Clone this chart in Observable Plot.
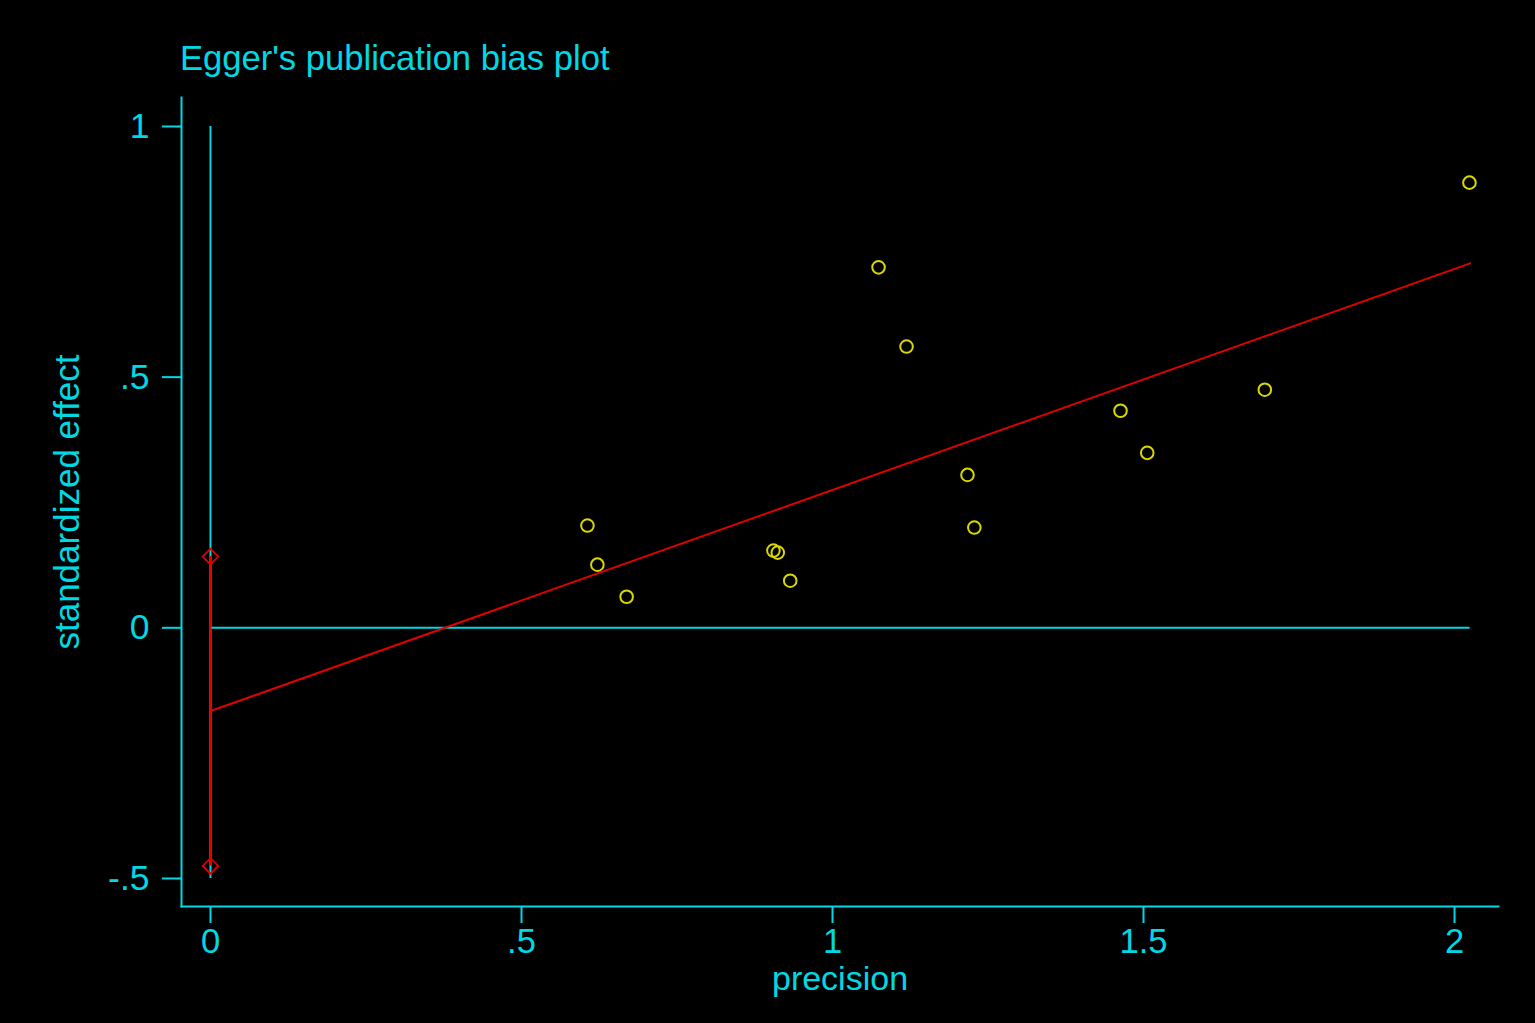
<!DOCTYPE html>
<html>
<head>
<meta charset="utf-8">
<script src="https://cdn.jsdelivr.net/npm/d3@7"></script>
<script src="https://cdn.jsdelivr.net/npm/@observablehq/plot@0.6"></script>
<style>
  html, body { margin: 0; padding: 0; background: #000; }
  #title { position: relative; height: 90px; width: 1535px; }
  #title span { position: absolute; left: 180px; top: 39px; line-height: 34px; font: 34.6px "Liberation Sans", Arial, sans-serif; color: #00d9e3; white-space: nowrap; }
</style>
</head>
<body>
<div id="title"><span>Egger's publication bias plot</span></div>
<div id="chart"></div>
<script>
const cyan = "#00d9e3";
const red = "#e00000";
const yellow = "#d9d900";

// Study points: precision vs standardized effect
const precision = [0.606, 0.622, 0.669, 0.905, 0.912, 0.932, 1.074, 1.119, 1.217, 1.228, 1.463, 1.506, 1.695, 2.024];
const stdEffect = [0.204, 0.126, 0.062, 0.154, 0.150, 0.094, 0.719, 0.561, 0.305, 0.200, 0.433, 0.349, 0.475, 0.888];

// Egger regression line
const fitX = [0, 2.025];
const fitY = [-0.166, 0.727];

// Confidence interval of intercept (bias)
const ciBounds = [-0.475, 0.142];

// Reference lines
const refVertical = [-0.5, 1];
const refHorizontal = [0, 2.025];

const xTicks = [0, 0.5, 1, 1.5, 2];
const yTicks = [-0.5, 0, 0.5, 1];
const xLabel = "precision";
const yLabel = "standardized effect";

const fmt = d => String(d).replace(/^(-?)0\./, "$1.");

const points = precision.map((x, i) => ({x, y: stdEffect[i]}));
const fit = fitX.map((x, i) => ({x, y: fitY[i]}));
const ciPts = ciBounds.map(y => ({x: 0, y}));

const chart = Plot.plot({
  width: 1535,
  height: 933,
  marginTop: 7,
  marginBottom: 117,
  marginLeft: 181,
  marginRight: 37,
  style: {background: "#000", color: cyan, fontFamily: "'Liberation Sans', Arial, sans-serif", fontSize: "35px"},
  x: {domain: [-0.0466, 2.0707]},
  y: {domain: [-0.5559, 1.0578]},
  marks: [
    Plot.frame({anchor: "left", stroke: cyan, strokeWidth: 2}),
    Plot.frame({anchor: "bottom", stroke: cyan, strokeWidth: 2}),
    Plot.axisX({ticks: xTicks, tickFormat: fmt, tickSize: 17, tickPadding: 5, stroke: cyan, strokeWidth: 2, fontSize: 34.5, label: null}),
    Plot.axisY({ticks: yTicks, tickFormat: fmt, tickSize: 19, tickPadding: 13, stroke: cyan, strokeWidth: 2, fontSize: 35.5, label: null}),
    Plot.text([xLabel], {frameAnchor: "bottom", textAnchor: "middle", lineAnchor: "middle", dy: 73, fill: cyan, fontSize: 34}),
    Plot.text([yLabel], {frameAnchor: "left", textAnchor: "middle", lineAnchor: "middle", dx: -114, rotate: -90, fill: cyan, fontSize: 35}),
    Plot.ruleX([0], {y1: refVertical[0], y2: refVertical[1], stroke: cyan, strokeWidth: 2}),
    Plot.ruleY([0], {x1: refHorizontal[0], x2: refHorizontal[1], stroke: cyan, strokeWidth: 2}),
    Plot.ruleX([0], {y1: ciBounds[0], y2: ciBounds[1], stroke: red, strokeWidth: 2}),
    Plot.line(fit, {x: "x", y: "y", stroke: red, strokeWidth: 2}),
    Plot.dot(points, {x: "x", y: "y", r: 6.3, stroke: yellow, strokeWidth: 2, fill: "none"}),
    Plot.dot(ciPts, {x: "x", y: "y", r: 7, symbol: "diamond2", stroke: red, strokeWidth: 1.8, fill: "none"})
  ]
});
document.getElementById("chart").appendChild(chart);
</script>
</body>
</html>
